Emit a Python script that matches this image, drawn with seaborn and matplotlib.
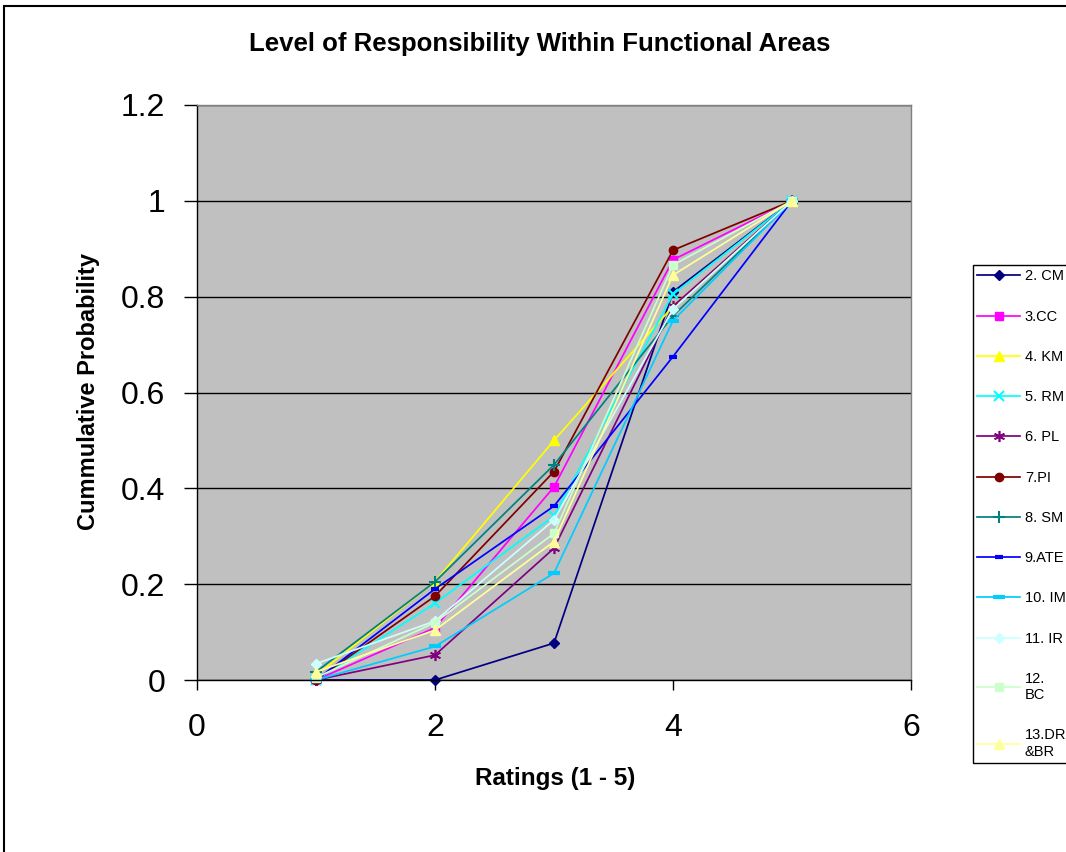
import matplotlib
matplotlib.use("Agg")
import matplotlib.pyplot as plt
from matplotlib.patches import Rectangle
import seaborn as sns

plt.rcParams['font.family'] = ['Liberation Sans', 'DejaVu Sans']

# ---- data ----
ratings = [1, 2, 3, 4, 5]
cm   = [0.000, 0.000, 0.077, 0.810, 1.0]
cc   = [0.000, 0.109, 0.403, 0.877, 1.0]
km   = [0.010, 0.205, 0.500, 0.780, 1.0]
rm   = [0.000, 0.160, 0.342, 0.805, 1.0]
pl   = [0.000, 0.052, 0.275, 0.780, 1.0]
pi   = [0.000, 0.175, 0.435, 0.897, 1.0]
sm   = [0.017, 0.205, 0.449, 0.760, 1.0]
ate  = [0.000, 0.190, 0.363, 0.675, 1.0]
im   = [0.000, 0.070, 0.223, 0.750, 1.0]
ir   = [0.034, 0.123, 0.334, 0.774, 1.0]
bc   = [0.005, 0.120, 0.306, 0.866, 1.0]
drbr = [0.017, 0.104, 0.289, 0.845, 1.0]

series_names = ["2. CM", "3.CC", "4. KM", "5. RM", "6. PL", "7.PI", "8. SM",
                "9.ATE", "10. IM", "11. IR", "12.\nBC", "13.DR\n&BR"]
series_values = [cm, cc, km, rm, pl, pi, sm, ate, im, ir, bc, drbr]

y_ticks = [0, 0.2, 0.4, 0.6, 0.8, 1.0, 1.2]
y_tick_labels = ["0", "0.2", "0.4", "0.6", "0.8", "1", "1.2"]
x_ticks = [0, 2, 4, 6]
x_tick_labels = ["0", "2", "4", "6"]

# ---- styles ----
colors = ["#000080", "#FF00FF", "#FFFF00", "#00FFFF", "#800080", "#800000",
          "#008080", "#0000FF", "#00CCFF", "#CCFFFF", "#CCFFCC", "#FFFF99"]
markers = ["D", "s", "^", "x", (6, 2, 0), "o", "+", "_", "_", "D", "s", "^"]
msizes = [5, 5.5, 7, 7, 8, 6, 8, 6, 9, 5, 5.5, 7]
mews = [1, 1, 1, 1.5, 1.2, 1, 1.5, 3, 3, 1, 1, 1]

W, H = 1066, 852
fig = plt.figure(figsize=(W / 100, H / 100), dpi=100)
fig.patch.set_facecolor("white")

ax = fig.add_axes([197 / W, (H - 680) / H, 714 / W, 575 / H])
ax.set_facecolor("#C0C0C0")

for name, vals, c, m, ms, mew in zip(series_names, series_values, colors,
                                      markers, msizes, mews):
    sns.lineplot(x=ratings, y=vals, ax=ax, color=c, marker=m, markersize=ms,
                 markeredgewidth=mew, markeredgecolor=c, markerfacecolor=c,
                 linewidth=1.25, label=name, clip_on=False, estimator=None)

ax.set_xlim(0, 6)
ax.set_ylim(0, 1.2)
ax.set_xticks(x_ticks)
ax.set_xticklabels(x_tick_labels)
ax.set_yticks(y_ticks)
ax.set_yticklabels(y_tick_labels)
ax.tick_params(axis="y", length=9.4, width=1, pad=13.5, labelsize=23, direction="out")
ax.tick_params(axis="x", length=7.2, width=1, pad=16.5, labelsize=23, direction="out")

ax.yaxis.grid(True, color="black", linewidth=1.0)
ax.xaxis.grid(False)
ax.set_axisbelow(True)

for s in ["left", "bottom"]:
    ax.spines[s].set_color("black")
    ax.spines[s].set_linewidth(1.0)
for s in ["top", "right"]:
    ax.spines[s].set_color("#808080")
    ax.spines[s].set_linewidth(1.0)

ax.set_xlabel("")
ax.set_ylabel("")

fig.text(540 / W, 1 - 44 / H, "Level of Responsibility Within Functional Areas",
         ha="center", va="center", fontsize=18.5, fontweight="bold")
fig.text(555 / W, 1 - 778 / H, "Ratings (1 - 5)", ha="center", va="center",
         fontsize=17.5, fontweight="bold")
fig.text(89 / W, 1 - 392 / H, "Cummulative Probability", ha="center", va="center",
         rotation=90, fontsize=17, fontweight="bold")

leg = ax.legend(loc="upper left", bbox_to_anchor=(973 / W, 1 - 265 / H),
                bbox_transform=fig.transFigure, fontsize=10.5, frameon=True,
                fancybox=False, shadow=False, framealpha=1, edgecolor="black",
                handlelength=2.95, handletextpad=0.3, labelspacing=1.8,
                borderpad=0.3, borderaxespad=0)
leg.get_frame().set_linewidth(1.0)

# outer chart border (extends beyond the image at right and bottom)
fig.patches.append(Rectangle((4 / W, -0.2), 1.5, 1 - 6 / H + 0.2,
                             transform=fig.transFigure, fill=False,
                             edgecolor="black", linewidth=1.5))

fig.savefig("out.png", dpi=100)
